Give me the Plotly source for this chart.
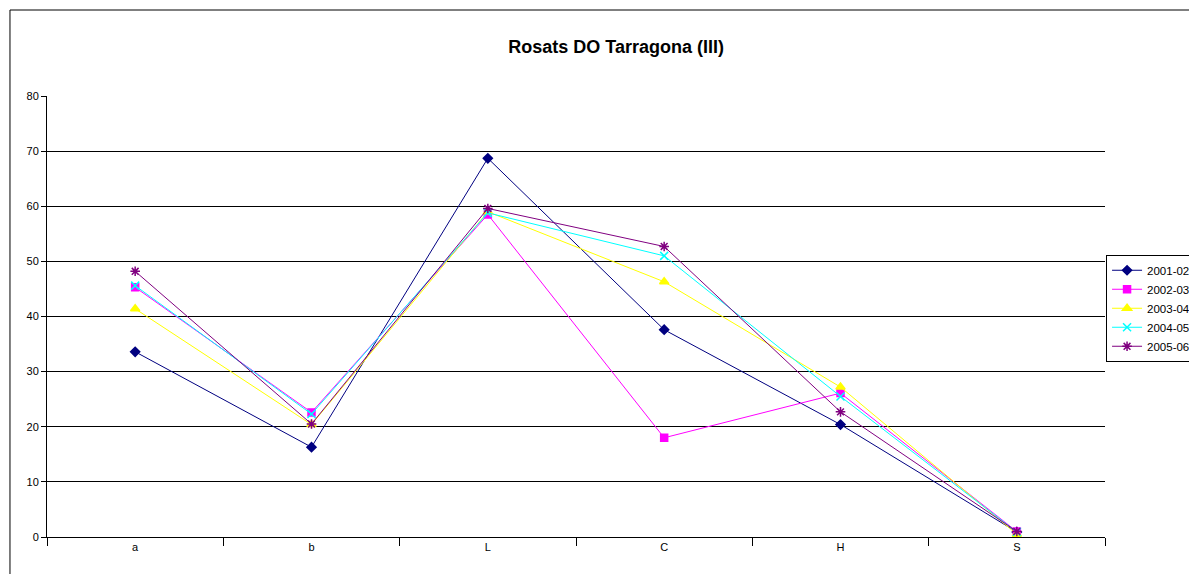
import plotly.graph_objects as go

categories = ["a", "b", "L", "C", "H", "S"]
series_names = ["2001-02", "2002-03", "2003-04", "2004-05", "2005-06"]
v_2001_02 = [33.6, 16.3, 68.7, 37.6, 20.4, 0.9]
v_2002_03 = [45.3, 22.6, 58.5, 18.0, 26.1, 1.0]
v_2003_04 = [41.4, 20.4, 59.0, 46.3, 27.2, 0.5]
v_2004_05 = [45.6, 22.3, 58.8, 51.0, 25.5, 0.9]
v_2005_06 = [48.2, 20.5, 59.6, 52.7, 22.7, 1.0]
y_ticks = [0, 10, 20, 30, 40, 50, 60, 70, 80]

series_values = [v_2001_02, v_2002_03, v_2003_04, v_2004_05, v_2005_06]
colors = ["#000080", "#FF00FF", "#FFFF00", "#00FFFF", "#800080"]
symbols = ["diamond", "square", "triangle-up", "x-thin-open", "asterisk-open"]
sizes = [7, 7, 8, 8, 8]

fig = go.Figure()
for name, vals, c, s, sz in zip(series_names, series_values, colors, symbols, sizes):
    fig.add_trace(go.Scatter(
        x=categories, y=vals, name=name, mode="lines+markers",
        line=dict(color=c, width=1),
        marker=dict(symbol=s, size=sz, color=c, line=dict(color=c, width=1.5)),
    ))

fig.update_layout(
    width=1189, height=566,
    margin=dict(l=39, r=92, t=88, b=37, autoexpand=False),
    paper_bgcolor="white", plot_bgcolor="white",
    font=dict(family="Liberation Sans, Arial, sans-serif", size=11, color="black"),
    title=dict(text="<b>Rosats DO Tarragona (III)</b>", x=0.5115, xanchor="center",
               y=0.932, yanchor="middle", font=dict(size=18)),
    showlegend=True,
    legend=dict(x=1.0010, xanchor="left", y=0.640, yanchor="top",
                bordercolor="black", borderwidth=1, bgcolor="white",
                font=dict(size=11.5), itemwidth=30, tracegroupgap=0),
    xaxis=dict(type="category", showgrid=False, showline=True, linecolor="black",
               linewidth=1, ticks="outside", tickson="boundaries", ticklen=8,
               tickcolor="black", zeroline=False, range=[-0.5, 5.5]),
    yaxis=dict(range=[0, 80], tickvals=y_ticks, showgrid=True, gridcolor="black",
               gridwidth=1, showline=True, linecolor="black", linewidth=1,
               ticks="outside", ticklen=5, tickcolor="black", zeroline=False),
    shapes=[dict(type="rect", xref="paper", yref="paper", x0=-0.035, x1=1.3,
                 y0=-0.3, y1=1.195, line=dict(color="black", width=1),
                 fillcolor="rgba(0,0,0,0)", layer="below")],
)

fig.write_html("out.html")
